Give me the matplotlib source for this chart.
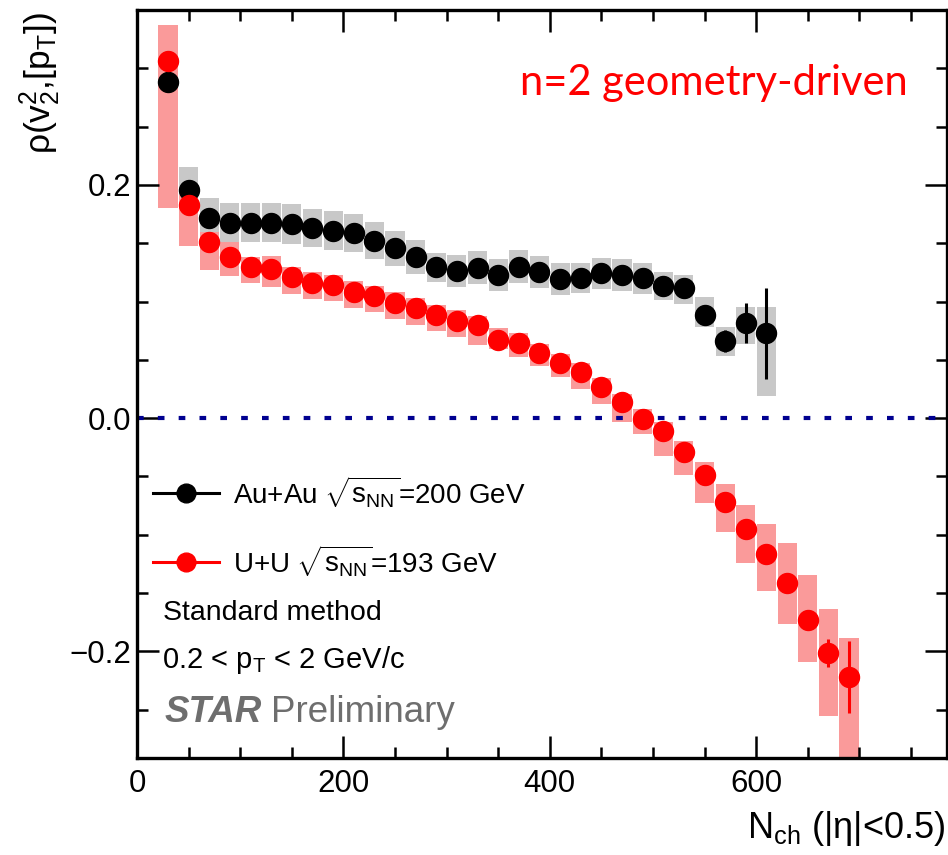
import matplotlib
matplotlib.use("Agg")
import matplotlib.pyplot as plt
from matplotlib.lines import Line2D
from matplotlib.ticker import MultipleLocator, FixedLocator
import numpy as np

plt.rcParams['font.family'] = ['Liberation Sans', 'DejaVu Sans']
plt.rcParams['mathtext.fontset'] = 'custom'
plt.rcParams['mathtext.rm'] = 'Liberation Sans'
plt.rcParams['mathtext.it'] = 'Liberation Sans'
plt.rcParams['mathtext.bf'] = 'Liberation Sans:bold'

# ---------------- data ----------------
auau_nch = [30, 50, 70, 90, 110, 130, 150, 170, 190, 210, 230, 250, 270, 290, 310,
            330, 350, 370, 390, 410, 430, 450, 470, 490, 510, 530, 550, 570, 590, 610]
auau_rho = [0.288, 0.1955, 0.172, 0.1675, 0.1675, 0.1675, 0.1664, 0.1627, 0.1607, 0.1584,
            0.1521, 0.1455, 0.1384, 0.1292, 0.1263, 0.1289, 0.1226, 0.1300, 0.1249, 0.1192,
            0.1198, 0.1241, 0.1226, 0.1198, 0.1132, 0.1118, 0.0881, 0.0663, 0.0818, 0.0726]
auau_stat = [0.003] * 27 + [0.0095, 0.0172, 0.0394]
auau_sys_up = [0.02, 0.0197, 0.017, 0.0166, 0.0168, 0.0168, 0.0168, 0.0163, 0.0165, 0.0163,
               0.016, 0.015, 0.0147, 0.0125, 0.0136, 0.0143, 0.0136, 0.0143, 0.0137, 0.0138,
               0.0129, 0.0134, 0.0136, 0.0131, 0.0119, 0.0109, 0.016, 0.0115, 0.0132, 0.0223]
auau_sys_dn = [0.02, 0.0197, 0.017, 0.0166, 0.0168, 0.0168, 0.0168, 0.0163, 0.0165, 0.0163,
               0.016, 0.015, 0.0147, 0.0125, 0.0136, 0.0143, 0.0136, 0.0143, 0.0137, 0.0138,
               0.0129, 0.0134, 0.0136, 0.0131, 0.0119, 0.0142, 0.0098, 0.0131, 0.018, 0.0537]

uu_nch = [30, 50, 70, 90, 110, 130, 150, 170, 190, 210, 230, 250, 270, 290, 310, 330, 350,
          370, 390, 410, 430, 450, 470, 490, 510, 530, 550, 570, 590, 610, 630, 650, 670, 690]
uu_rho = [0.3062, 0.1827, 0.1512, 0.1378, 0.1298, 0.1275, 0.1207, 0.1161, 0.1141, 0.1083,
          0.1046, 0.0989, 0.0941, 0.0883, 0.0835, 0.0798, 0.0669, 0.0646, 0.0560, 0.0474,
          0.0397, 0.0263, 0.0134, -0.0009, -0.0111, -0.0292, -0.0492, -0.0718, -0.0955,
          -0.1166, -0.1418, -0.1732, -0.2018, -0.2219]
uu_stat = [0.004] * 32 + [0.012, 0.031]
uu_sys_up = [0.031, 0.009, 0.008, 0.0134, 0.0086, 0.0114, 0.009, 0.009, 0.009, 0.009,
             0.009, 0.009, 0.009, 0.009, 0.009, 0.0077, 0.01, 0.0086, 0.0075, 0.0075,
             0.0072, 0.0077, 0.0071, 0.0083, 0.008, 0.0094, 0.0114, 0.0157, 0.0214, 0.0254,
             0.0343, 0.0386, 0.0377, 0.0334]
uu_sys_dn = [0.126, 0.035, 0.024, 0.016, 0.0137, 0.0149, 0.014, 0.014, 0.014, 0.014,
             0.014, 0.014, 0.014, 0.014, 0.014, 0.0171, 0.008, 0.0126, 0.0114, 0.0125,
             0.0151, 0.0143, 0.0166, 0.0129, 0.0214, 0.020, 0.024, 0.026, 0.0286, 0.0315,
             0.0352, 0.0363, 0.0535, 0.09]

labels = [r"Au+Au $\sqrt{s_{\rm NN}}$=200 GeV", r"U+U $\sqrt{s_{\rm NN}}$=193 GeV"]
x_ticks = [0, 200, 400, 600]
y_ticks = [-0.2, 0.0, 0.2]

# ---------------- figure ----------------
W, H = 948, 855
fig = plt.figure(figsize=(W / 100, H / 100), dpi=100)
ax = fig.add_axes([137 / W, 1 - 758 / H, (947 - 137) / W, (758 - 10) / H])

box_w = 18.5
gray = '#c8c8c8'
pink = '#fa9a9a'

def boxes(x, y, up, dn, color):
    y = np.asarray(y); up = np.asarray(up); dn = np.asarray(dn)
    ax.bar(x, up + dn, bottom=y - dn, width=box_w, color=color, linewidth=0, zorder=1)

boxes(auau_nch, auau_rho, auau_sys_up, auau_sys_dn, gray)
boxes(uu_nch, uu_rho, uu_sys_up, uu_sys_dn, pink)

ax.axhline(0.0, color='#000090', lw=3.0, linestyle=(0, (1.6, 3.4)), zorder=2)

ms = 14.4
ax.errorbar(auau_nch, auau_rho, yerr=auau_stat, fmt='o', color='black', ms=ms,
            elinewidth=2.2, capsize=0, zorder=3)
ax.errorbar(uu_nch, uu_rho, yerr=uu_stat, fmt='o', color='#ff0000', ms=ms,
            elinewidth=2.2, capsize=0, zorder=4)

ax.set_xlim(0, 785)
ax.set_ylim(-0.2915, 0.35)
ax.xaxis.set_major_locator(FixedLocator(x_ticks))
ax.xaxis.set_minor_locator(MultipleLocator(50))
ax.yaxis.set_major_locator(FixedLocator(y_ticks))
ax.yaxis.set_minor_locator(MultipleLocator(0.05))
ax.set_xticklabels([str(v) for v in x_ticks])
ax.set_yticklabels(['\u22120.2', '0.0', '0.2'])
ax.tick_params(which='both', direction='in', top=True, right=True, width=1.8,
               labelsize=22.5)
ax.tick_params(which='major', length=15.8)
ax.tick_params(which='minor', length=7.9)
ax.tick_params(axis='x', pad=8)
ax.tick_params(axis='y', pad=4)
for s in ax.spines.values():
    s.set_linewidth(2.4)

# axis titles
fig.text(945 / W, 1 - 838 / H, r"N$_{\rm ch}$ (|η|<0.5)", ha='right', va='baseline',
         fontsize=26)
fig.text(40 / W, 1 - 12 / H, r"ρ(v$^2_2$,[p$_{\rm T}$])", rotation=90, ha='center',
         va='top', fontsize=25.5)

# legend
fs_leg = 20
handles = [Line2D([], [], color='black', marker='o', ms=13.5, lw=2.2),
           Line2D([], [], color='#ff0000', marker='o', ms=13.5, lw=2.2)]
leg = ax.legend(handles, labels, loc='upper left',
                bbox_to_anchor=((152.7 - 137) / 810, 1 - (474 - 10) / 748),
                frameon=False, fontsize=fs_leg, handlelength=2.38, handletextpad=0.5,
                labelspacing=1.2, borderaxespad=0, borderpad=0)

fig.text(163 / W, 1 - 620 / H, "Standard method", fontsize=20.5, va='baseline')
fig.text(162 / W, 1 - 668 / H, r"0.2 < p$_{\rm T}$ < 2 GeV/c", fontsize=21, va='baseline')
t1 = fig.text(165 / W, 1 - 722 / H, "STAR", fontsize=26.5, va='baseline', color='#6e6e6e',
              fontweight='bold', fontstyle='italic')
fig.canvas.draw()
bb = t1.get_window_extent()
fig.text((bb.x1 + 9) / W, 1 - 722 / H, "Preliminary", fontsize=26.5, va='baseline',
         color='#6e6e6e')

fig.text(908 / W, 1 - 95 / H, "n=2 geometry-driven", ha='right', va='baseline',
         fontsize=30, color='#ff0000', family=['Lato', 'DejaVu Sans'])

fig.savefig('out.png', dpi=100)
